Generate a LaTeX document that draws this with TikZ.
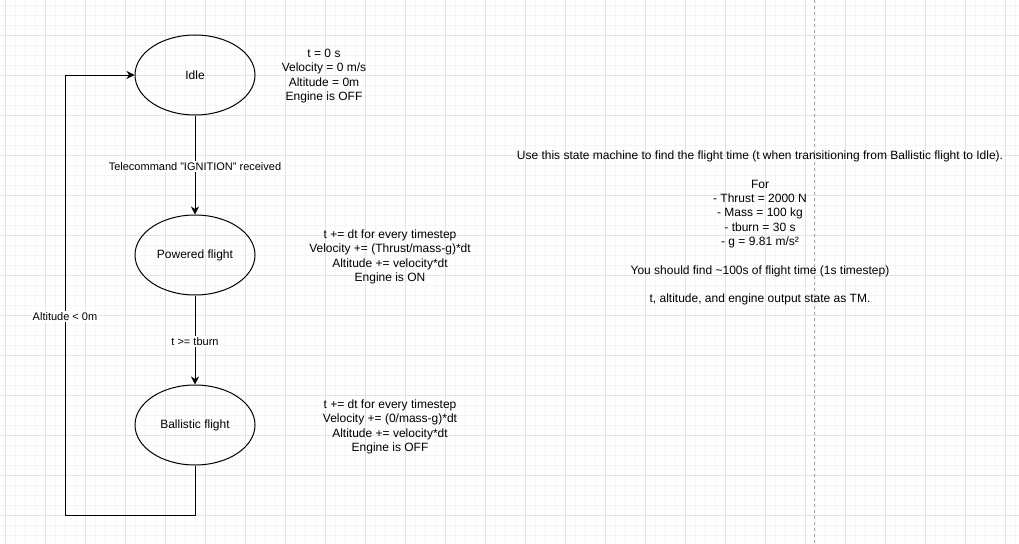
\documentclass[tikz,border=0pt]{standalone}
\usepackage{fontspec}
\setmainfont{Liberation Sans}
\usepackage{tikz}
\usetikzlibrary{arrows.meta,shapes.geometric,positioning}

\begin{document}
\begin{tikzpicture}[x=1pt,y=-1pt,
  state/.style={draw,thick,ellipse,line width=1pt,minimum width=120pt,minimum height=80pt,inner sep=0pt,font=\fontsize{12}{14.4}\selectfont},
  note/.style={align=center,inner sep=0pt,font=\fontsize{12}{14.3}\selectfont},
  trans/.style={line width=1pt,-{Stealth[length=8pt,width=8pt,inset=2.5pt]}},
  edgelbl/.style={fill=white,inner sep=1pt,yshift=-1.5pt,font=\fontsize{11}{13}\selectfont}]
% background and grid
\fill[white] (0,0) rectangle (1019,543);
\useasboundingbox (0,0) rectangle (1019,543);
\foreach \x in {5,15,...,1015} \draw[black!4,line width=0.8pt] (\x,0) -- (\x,543);
\foreach \y in {5,15,...,535} \draw[black!4,line width=0.8pt] (0,\y) -- (1019,\y);
\foreach \x in {5,45,...,1005} \draw[black!11,line width=0.8pt] (\x,0) -- (\x,543);
\foreach \y in {35,75,...,515} \draw[black!11,line width=0.8pt] (0,\y) -- (1019,\y);
\draw[black!35,line width=0.8pt,dash pattern=on 3pt off 3pt] (814,0) -- (814,543);

% states
\node[state] (idle) at (195,75) {Idle};
\node[state] (powered) at (195,255) {Powered flight};
\node[state] (ballistic) at (195,425) {Ballistic flight};

% notes beside the states
\node[note] (idleNote) at (324,76) {t = 0 s\\Velocity = 0 m/s\\Altitude = 0m\\Engine is OFF};
\node[note] (poweredNote) at (390,257) {t += dt for every timestep\\Velocity += (Thrust/mass-g)*dt\\Altitude += velocity*dt\\Engine is ON};
\node[note] (ballisticNote) at (390,427) {t += dt for every timestep\\Velocity += (0/mass-g)*dt\\Altitude += velocity*dt\\Engine is OFF};
\node[note] (taskNote) at (760,228) {Use this state machine to find the flight time (t when transitioning from Ballistic flight to Idle).\\[14.3pt]
For\\- Thrust = 2000 N\\- Mass = 100 kg\\- tburn = 30 s\\- g = 9.81 m/s²\\[14.3pt]
You should find \textasciitilde100s of flight time (1s timestep)\\[14.3pt]
t, altitude, and engine output state as TM.};

% transitions
\draw[trans] (idle) -- node[edgelbl] (ignLbl) {Telecommand "IGNITION" received} (powered);
\draw[trans] (powered) -- node[edgelbl] (burnLbl) {t >= tburn} (ballistic);
\coordinate (retCorner) at (65,515);
\draw[trans] (ballistic.south) |- (retCorner) |- (idle.west);
\node[edgelbl] (altLbl) at (65,315) {Altitude < 0m};
\end{tikzpicture}
\end{document}
